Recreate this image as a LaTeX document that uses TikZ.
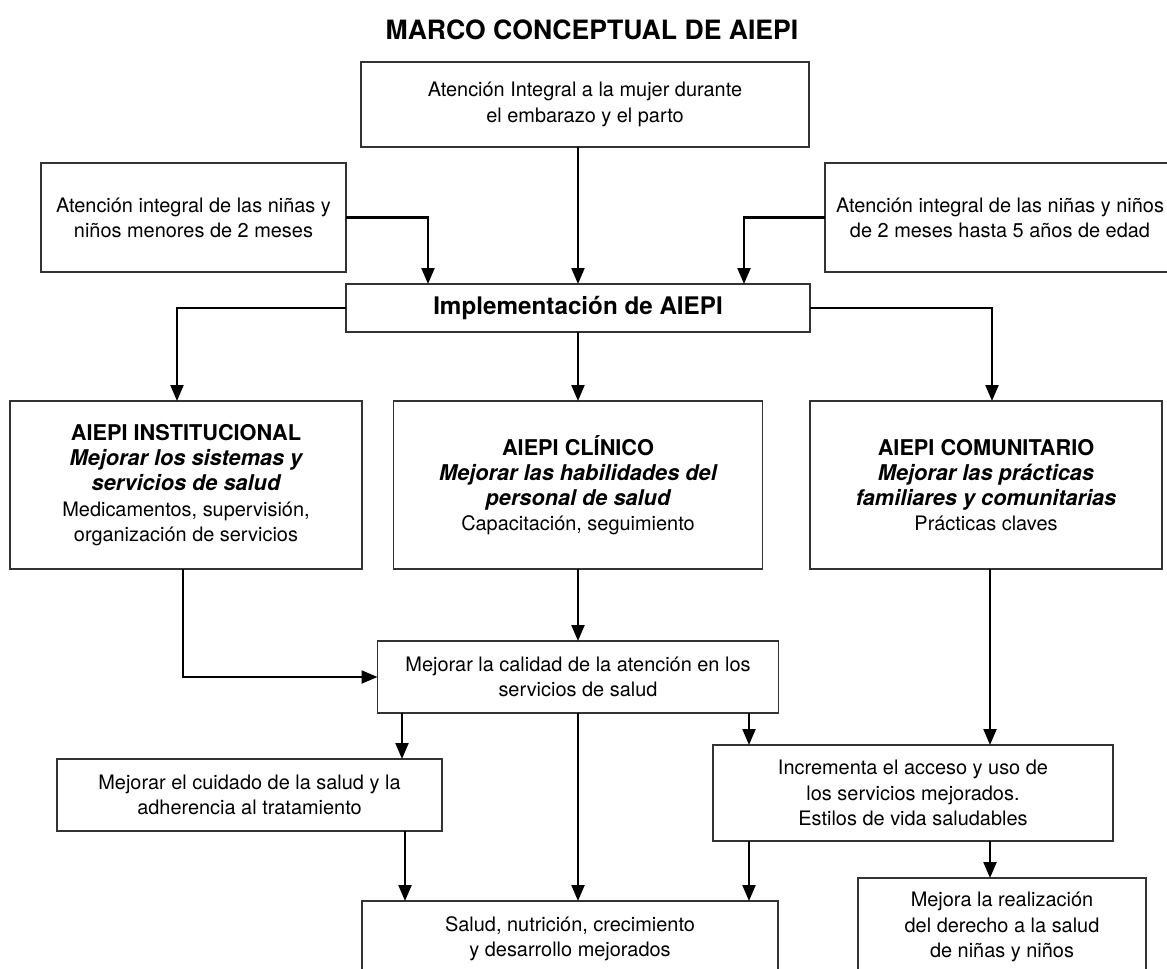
\documentclass[tikz,border=0pt]{standalone}
\usepackage{fontspec}
\setmainfont{TeX Gyre Heros}
\usetikzlibrary{arrows.meta,calc}

% heading and aim lines inside the three strategy boxes
\newcommand{\boxhead}[1]{{\fontsize{21.8}{25}\selectfont\bfseries #1}}
\newcommand{\boxaim}[1]{{\fontsize{21.8}{25}\selectfont\bfseries\itshape #1}}

\begin{document}
\begin{tikzpicture}[x=1bp,y=-1bp,
  box/.style={draw=black!80, line width=1.3bp, inner sep=0pt, outer sep=0pt,
              align=center, fill=white, font=\fontsize{20}{25.3}\selectfont},
  arr/.style={line width=2.2bp, -{Triangle[length=16bp,width=13bp]}}]

\fill[white] (0,0) rectangle (1167,969);
\clip (0,0) rectangle (1167,969);
\useasboundingbox (0,0) rectangle (1167,969);

% title
\node[font=\bfseries\fontsize{26.7}{30}\selectfont] (title) at (592,30)
  {MARCO CONCEPTUAL DE AIEPI};

% inputs
\node[box, minimum width=448bp, minimum height=85bp] (top) at (585,104.5)
  {Atención Integral a la mujer durante\\el embarazo y el parto};
\node[box, minimum width=305bp, minimum height=109bp] (left) at (193.5,217.5)
  {Atención integral de las niñas y\\niños menores de 2 meses};
\node[box, minimum width=350bp, minimum height=109bp] (right) at (1000,217.5)
  {Atención integral de las niñas y niños\\de 2 meses hasta 5 años de edad};

% implementation
\node[box, minimum width=464bp, minimum height=48bp,
      font=\bfseries\fontsize{24.3}{28}\selectfont] (impl) at (578,308)
  {Implementación de AIEPI};

% three components
\node[box, minimum width=352bp, minimum height=168bp] (inst) at (186,485)
  {\boxhead{AIEPI INSTITUCIONAL}\\\boxaim{Mejorar los sistemas y}\\
   \boxaim{servicios de salud}\\Medicamentos, supervisión,\\organización de servicios};
\node[box, minimum width=369bp, minimum height=168bp] (clin) at (578,485)
  {\boxhead{AIEPI CLÍNICO}\\\boxaim{Mejorar las habilidades del}\\
   \boxaim{personal de salud}\\Capacitación, seguimiento};
\node[box, minimum width=352bp, minimum height=168bp] (comu) at (986,485)
  {\boxhead{AIEPI COMUNITARIO}\\\boxaim{Mejorar las prácticas}\\
   \boxaim{familiares y comunitarias}\\Prácticas claves};

% results
\node[box, minimum width=401bp, minimum height=72bp] (cal) at (578,677)
  {Mejorar la calidad de la atención en los\\servicios de salud};
\node[box, minimum width=385bp, minimum height=72bp] (cuid) at (249.5,795)
  {Mejorar el cuidado de la salud y la\\adherencia al tratamiento};
\node[box, minimum width=400bp, minimum height=96bp] (inc) at (913,793)
  {Incrementa el acceso y uso de\\los servicios mejorados.\\Estilos de vida saludables};
\node[box, minimum width=416bp, minimum height=76bp] (salud) at (570,939)
  {Salud, nutrición, crecimiento\\y desarrollo mejorados};
\node[box, minimum width=288bp, minimum height=98bp] (mejora) at (1002,927)
  {Mejora la realización\\del derecho a la salud\\de niñas y niños};

% connectors into the implementation box
\coordinate (kL) at ([xshift=82bp]impl.north west);
\coordinate (kR) at ([xshift=-66bp]impl.north east);
\draw[arr] (left.east) -| (kL);
\draw[arr] (right.west) -| (kR);
\draw[arr] (impl.north |- top.south) -- (impl.north);

% implementation to components
\draw[arr] (impl.west) -| ([xshift=-9bp]inst.north);
\draw[arr] (impl.east) -| ([xshift=6bp]comu.north);
\draw[arr] (impl.south) -- (impl.south |- clin.north);

% components to results
\draw[arr] ([xshift=-3bp]inst.south) |- (cal.west);
\draw[arr] (clin.south) -- (clin.south |- cal.north);
\coordinate (fA) at ([xshift=4bp]comu.south);
\draw[arr] (fA) -- (fA |- inc.north);

% quality of care outputs
\coordinate (cA) at ([xshift=24.5bp]cal.south west);
\coordinate (cB) at ([xshift=-29.5bp]cal.south east);
\draw[arr] (cA) -- (cA |- cuid.north);
\draw[arr] (cal.south) -- (cal.south |- salud.north);
\draw[arr] (cB) -- (cB |- inc.north);

% final outcomes
\coordinate (dA) at ([xshift=-37bp]cuid.south east);
\coordinate (eA) at ([xshift=36bp]inc.south west);
\coordinate (eB) at ([xshift=77bp]inc.south);
\draw[arr] (dA) -- (dA |- salud.north);
\draw[arr] (eA) -- (eA |- salud.north);
\draw[arr] (eB) -- (eB |- mejora.north);
\end{tikzpicture}
\end{document}
